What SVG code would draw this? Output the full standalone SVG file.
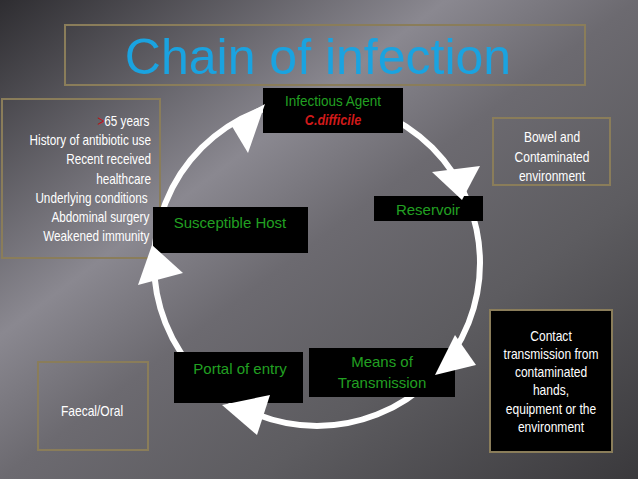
<svg xmlns="http://www.w3.org/2000/svg" width="638" height="479" viewBox="0 0 638 479">
<defs>
<linearGradient id="bg" x1="0" y1="0" x2="1" y2="1">
<stop offset="0" stop-color="#2e2d31"/>
<stop offset="0.35" stop-color="#8a8890"/>
<stop offset="0.5" stop-color="#6c6a70"/>
<stop offset="0.7" stop-color="#5d5c60"/>
<stop offset="1" stop-color="#3a393c"/>
</linearGradient>
<style>
.t{font-family:"Liberation Sans",Arial,sans-serif;font-size:14px;fill:#fff;text-anchor:middle}
.g{font-family:"Liberation Sans",Arial,sans-serif;font-size:15px;fill:#22a022;text-anchor:middle}
.blk{fill:#000}
.ol{fill:none;stroke:#8a7d5a;stroke-width:2}
.ah{fill:#fff}
</style>
</defs>
<rect width="638" height="479" fill="url(#bg)"/>
<g id="title">
<rect x="65" y="25" width="520" height="60" class="ol"/>
<text x="318" y="74" font-family="Liberation Sans,Arial,sans-serif" font-size="50" fill="#1aa3e0" text-anchor="middle">Chain of infection</text>
</g>
<g id="connectors">
<circle cx="317" cy="263" r="163" fill="none" stroke="#fff" stroke-width="6"/>
</g>
<g id="left-notes">
<rect x="2" y="99" width="158" height="159" class="ol"/>
<g transform="translate(151,0) scale(0.84,1)">
<text class="t" style="text-anchor:end" fill="#eee"><tspan x="-2" y="126"><tspan fill="#c0141c">&gt;</tspan>65 years</tspan><tspan x="0" y="145">History of antibiotic use</tspan><tspan x="0" y="164">Recent received</tspan><tspan x="0" y="184">healthcare</tspan><tspan x="-4" y="203">Underlying conditions</tspan><tspan x="-2" y="222">Abdominal surgery</tspan><tspan x="-2" y="241">Weakened immunity</tspan></text>
</g>
</g>
<g id="agent">
<rect x="263" y="88" width="140" height="45" class="blk"/>
<g transform="translate(333,0) scale(0.9,1)">
<text class="g" x="0" y="106">Infectious Agent</text>
<text x="0" y="125" font-family="Liberation Sans,Arial,sans-serif" font-size="14" font-weight="bold" font-style="italic" fill="#d01a1a" text-anchor="middle">C.difficile</text>
</g>
</g>
<g id="reservoir">
<rect x="374" y="196" width="109" height="25" class="blk"/>
<text class="g" x="428" y="215">Reservoir</text>
</g>
<g id="host">
<rect x="153" y="207" width="155" height="46" class="blk"/>
<text class="g" x="230" y="228">Susceptible Host</text>
</g>
<g id="portal">
<rect x="174" y="352" width="129" height="51" class="blk"/>
<text class="g" x="240" y="374">Portal of entry</text>
</g>
<g id="means">
<rect x="309" y="348" width="146" height="49" class="blk"/>
<text class="g" x="382" y="367">Means of</text>
<text class="g" x="382" y="388">Transmission</text>
</g>
<g id="arrowheads">
<polygon class="ah" points="265,104 230,123 248,153"/>
<polygon class="ah" points="462,200 432,172 480,166"/>
<polygon class="ah" points="435,375 455,335 476,365"/>
<polygon class="ah" points="222,405 270,395 257,435"/>
<polygon class="ah" points="152,245 138,285 183,273"/>
</g>
<g id="bowel">
<rect x="493" y="118" width="117" height="67" class="ol"/>
<g transform="translate(552,0) scale(0.86,1)">
<text class="t" x="0" y="142">Bowel and</text>
<text class="t" x="0" y="162">Contaminated</text>
<text class="t" x="0" y="181">environment</text>
</g>
</g>
<g id="contact">
<rect x="490" y="310" width="122" height="142" fill="#000" stroke="#8a7d5a" stroke-width="2"/>
<g transform="translate(551,0) scale(0.86,1)">
<text class="t" x="0" y="341">Contact</text>
<text class="t" x="0" y="359">transmission from</text>
<text class="t" x="0" y="377">contaminated</text>
<text class="t" x="0" y="395">hands,</text>
<text class="t" x="0" y="414">equipment or the</text>
<text class="t" x="0" y="432">environment</text>
</g>
</g>
<g id="faecal">
<rect x="38" y="362" width="110" height="88" class="ol"/>
<g transform="translate(92,0) scale(0.86,1)">
<text class="t" x="0" y="416">Faecal/Oral</text>
</g>
</g>
</svg>
